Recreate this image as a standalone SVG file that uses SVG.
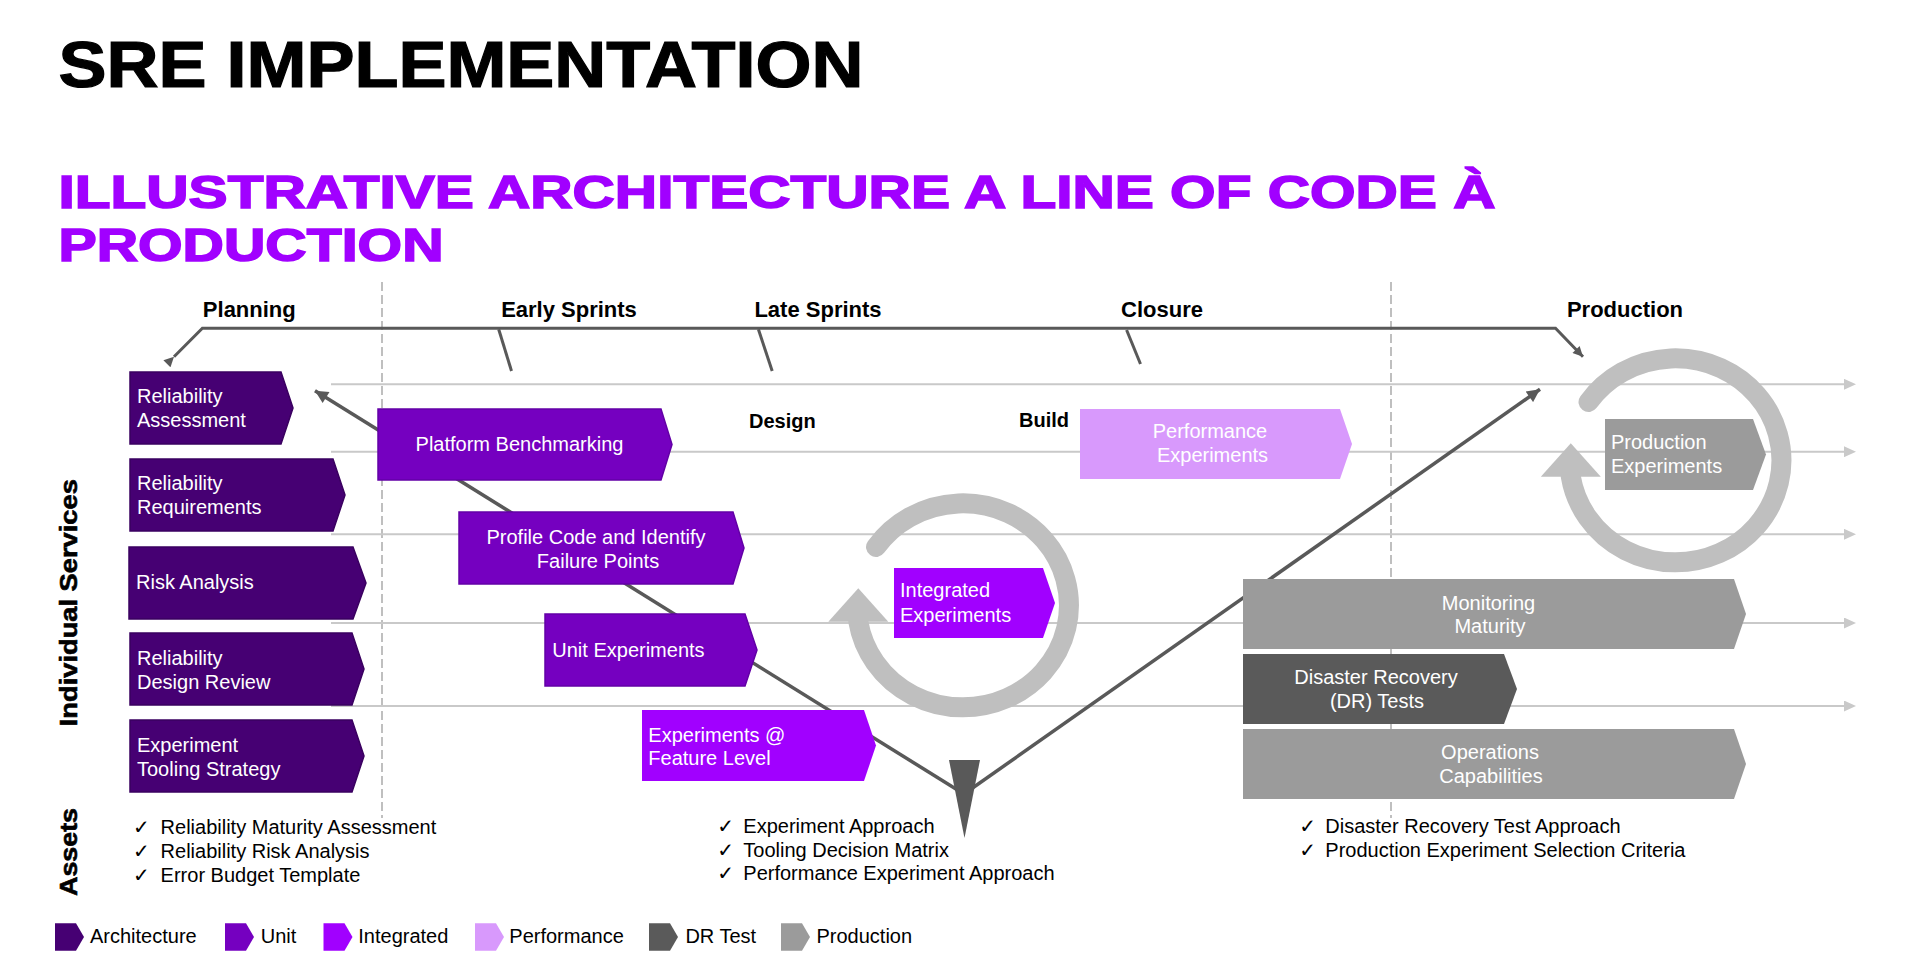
<svg xmlns="http://www.w3.org/2000/svg" width="1910" height="978" viewBox="0 0 1910 978">
<style>
  text { font-family: "Liberation Sans", Arial, sans-serif; }
  .title { font-size: 65px; font-weight: bold; fill: #000; stroke: #000; stroke-width: 1.2; }
  .sub { font-size: 47px; font-weight: bold; fill: #A100FF; stroke: #A100FF; stroke-width: 1.6; }
  .phase { font-size: 22px; font-weight: bold; fill: #000; text-anchor: middle; }
  .stage { font-size: 20px; font-weight: bold; fill: #000; }
  .side { font-size: 23px; font-weight: bold; fill: #000; stroke: #000; stroke-width: 0.6; text-anchor: middle; }
  .bt { font-size: 20px; fill: #FFFFFF; }
  .mid { text-anchor: middle; }
  .asset { font-size: 20px; fill: #000; }
  .chk { font-family: "DejaVu Sans", sans-serif; font-size: 20px; fill: #000; }
  .leg { font-size: 20px; fill: #000; }
  .arch { fill: #460073; stroke: #3A0060; stroke-width: 1.5; }
  .unit { fill: #7500C0; stroke: #6300A6; stroke-width: 1.5; }
  .integ { fill: #A100FF; }
  .perf { fill: #D899FC; }
  .dr { fill: #5A5A5A; }
  .prod { fill: #9B9B9B; }
  .dash { stroke: #BFBFBF; stroke-width: 2; stroke-dasharray: 9 4; fill: none; }
  .lane { stroke: #C9C9C9; stroke-width: 2; fill: none; }
  .conn { stroke: #595959; stroke-width: 3.5; fill: none; }
  .brk { stroke: #595959; stroke-width: 3; fill: none; }
</style>
<defs>
  <marker id="ah" viewBox="0 0 10 10" refX="10" refY="5" markerWidth="15" markerHeight="13" markerUnits="userSpaceOnUse" orient="auto">
    <path d="M0,0 L10,5 L0,10 z" fill="#595959"/>
  </marker>
  <marker id="ahs" viewBox="0 0 10 10" refX="10" refY="5" markerWidth="11" markerHeight="10" markerUnits="userSpaceOnUse" orient="auto">
    <path d="M0,0 L10,5 L0,10 z" fill="#595959"/>
  </marker>
  <marker id="lah" viewBox="0 0 12 11" refX="0" refY="5.5" markerWidth="12" markerHeight="11" markerUnits="userSpaceOnUse" orient="auto">
    <path d="M0,0 L12,5.5 L0,11 z" fill="#C9C9C9"/>
  </marker>
  <g id="cycle">
    <path d="M-87,-59 A106,102 0 1 1 -104.7,15.7" fill="none" stroke="#BFBFBF" stroke-width="20" stroke-linecap="round"/>
    <polygon points="-134.7,15.7 -74.7,15.7 -104.7,-17.7" fill="#BFBFBF"/>
  </g>
</defs>

<g id="titles">
  <text class="title" x="58.5" y="86.7" textLength="805" lengthAdjust="spacingAndGlyphs">SRE IMPLEMENTATION</text>
  <text class="sub" x="58.5" y="207.5" textLength="1437" lengthAdjust="spacingAndGlyphs">ILLUSTRATIVE ARCHITECTURE A LINE OF CODE À</text>
  <text class="sub" x="58.5" y="260.5" textLength="385" lengthAdjust="spacingAndGlyphs">PRODUCTION</text>
</g>

<g id="dividers">
  <line class="dash" x1="382" y1="282" x2="382" y2="818"/>
  <line class="dash" x1="1391" y1="282" x2="1391" y2="818"/>
</g>

<g id="lanes">
  <line class="lane" x1="331" y1="384.3" x2="1844" y2="384.3" marker-end="url(#lah)"/>
  <line class="lane" x1="331" y1="451.7" x2="1844" y2="451.7" marker-end="url(#lah)"/>
  <line class="lane" x1="331" y1="534.3" x2="1844" y2="534.3" marker-end="url(#lah)"/>
  <line class="lane" x1="331" y1="623" x2="1844" y2="623" marker-end="url(#lah)"/>
  <line class="lane" x1="331" y1="706" x2="1844" y2="706" marker-end="url(#lah)"/>
</g>

<g id="timeline">
  <polyline class="brk" points="174,356.7 202.4,328.3 1555.5,328.3 1583,356.7" marker-start="url(#ahs)" marker-end="url(#ahs)"/>
  <line class="brk" x1="498.7" y1="329.3" x2="511.5" y2="371"/>
  <line class="brk" x1="758.4" y1="329.3" x2="772.2" y2="371"/>
  <line class="brk" x1="1126.6" y1="330" x2="1140.5" y2="364"/>
  <text class="phase" x="249.3" y="317.3">Planning</text>
  <text class="phase" x="569" y="317.3">Early Sprints</text>
  <text class="phase" x="818" y="317.3">Late Sprints</text>
  <text class="phase" x="1162" y="317.3">Closure</text>
  <text class="phase" x="1625" y="317.3">Production</text>
  <text class="stage" x="749" y="427.7">Design</text>
  <text class="stage" x="1019" y="427">Build</text>
</g>

<g id="cycles">
  <use href="#cycle" x="963" y="606"/>
  <use href="#cycle" x="1675.5" y="461"/>
</g>

<g id="connectors">
  <line class="conn" x1="964" y1="794" x2="315" y2="390.7" marker-end="url(#ah)"/>
  <line class="conn" x1="964" y1="794" x2="1540" y2="389.3" marker-end="url(#ah)"/>
  <polygon points="949,760 980,760 964.5,838" fill="#595959"/>
</g>

<g id="node-reliability-assessment">
  <path class="arch" d="M130,372 H281 L293,408 L281,444 H130 Z"/>
  <text class="bt" x="137" y="403">Reliability</text>
  <text class="bt" x="137" y="427">Assessment</text>
</g>
<g id="node-reliability-requirements">
  <path class="arch" d="M130,459 H333 L345,495 L333,531 H130 Z"/>
  <text class="bt" x="137" y="490">Reliability</text>
  <text class="bt" x="137" y="514">Requirements</text>
</g>
<g id="node-risk-analysis">
  <path class="arch" d="M129,547 H353 L366,583 L353,619 H129 Z"/>
  <text class="bt" x="136" y="589.3">Risk Analysis</text>
</g>
<g id="node-reliability-design-review">
  <path class="arch" d="M130,633 H352 L364,669 L352,705 H130 Z"/>
  <text class="bt" x="137" y="665">Reliability</text>
  <text class="bt" x="137" y="689">Design Review</text>
</g>
<g id="node-experiment-tooling-strategy">
  <path class="arch" d="M130,720 H352 L364,756 L352,792 H130 Z"/>
  <text class="bt" x="137" y="752">Experiment</text>
  <text class="bt" x="137" y="776">Tooling Strategy</text>
</g>

<g id="node-platform-benchmarking">
  <path class="unit" d="M378,409 H661 L672,444.5 L661,480 H378 Z"/>
  <text class="bt mid" x="519.5" y="451">Platform Benchmarking</text>
</g>
<g id="node-profile-code">
  <path class="unit" d="M459,512 H733 L744,548 L733,584 H459 Z"/>
  <text class="bt mid" x="596" y="544.3">Profile Code and Identify</text>
  <text class="bt mid" x="598" y="568.3">Failure Points</text>
</g>
<g id="node-unit-experiments">
  <path class="unit" d="M545,614 H745 L757,650 L745,686 H545 Z"/>
  <text class="bt" x="552.3" y="656.7">Unit Experiments</text>
</g>

<g id="node-experiments-feature-level">
  <path class="integ" d="M642,710 H864 L876,745.5 L864,781 H642 Z"/>
  <text class="bt" x="648.3" y="741.7">Experiments @</text>
  <text class="bt" x="648.3" y="765">Feature Level</text>
</g>
<g id="node-integrated-experiments">
  <path class="integ" d="M894,568 H1043 L1055,603 L1043,638 H894 Z"/>
  <text class="bt" x="900" y="597.3">Integrated</text>
  <text class="bt" x="900" y="621.7">Experiments</text>
</g>

<g id="node-performance-experiments">
  <path class="perf" d="M1080,409 H1340 L1352,444 L1340,479 H1080 Z"/>
  <text class="bt mid" x="1210" y="438.3">Performance</text>
  <text class="bt mid" x="1212.5" y="461.7">Experiments</text>
</g>

<g id="node-production-experiments">
  <path class="prod" d="M1605,419 H1753 L1766,454.5 L1753,490 H1605 Z"/>
  <text class="bt" x="1611" y="449">Production</text>
  <text class="bt" x="1611" y="473.3">Experiments</text>
</g>

<g id="node-monitoring-maturity">
  <path class="prod" d="M1243,579 H1734 L1746,614 L1734,649 H1243 Z"/>
  <text class="bt mid" x="1488.5" y="610">Monitoring</text>
  <text class="bt mid" x="1490" y="633.3">Maturity</text>
</g>
<g id="node-dr-tests">
  <path class="dr" d="M1243,654 H1504 L1517,689 L1504,724 H1243 Z"/>
  <text class="bt mid" x="1376" y="684">Disaster Recovery</text>
  <text class="bt mid" x="1377" y="707.7">(DR) Tests</text>
</g>
<g id="node-operations-capabilities">
  <path class="prod" d="M1243,729 H1734 L1746,764 L1734,799 H1243 Z"/>
  <text class="bt mid" x="1490" y="759.3">Operations</text>
  <text class="bt mid" x="1491" y="782.7">Capabilities</text>
</g>

<g id="side-labels">
  <text class="side" transform="translate(77,602.7) rotate(-90)" textLength="247" lengthAdjust="spacingAndGlyphs">Individual Services</text>
  <text class="side" transform="translate(77,852) rotate(-90)" textLength="88" lengthAdjust="spacingAndGlyphs">Assets</text>
</g>

<g id="assets-planning">
  <text class="chk" x="133" y="834">✓</text>
  <text class="asset" x="160.6" y="834">Reliability Maturity Assessment</text>
  <text class="chk" x="133" y="857.7">✓</text>
  <text class="asset" x="160.6" y="857.7">Reliability Risk Analysis</text>
  <text class="chk" x="133" y="881.7">✓</text>
  <text class="asset" x="160.6" y="881.7">Error Budget Template</text>
</g>
<g id="assets-sprints">
  <text class="chk" x="717.3" y="833.3">✓</text>
  <text class="asset" x="743.3" y="833.3">Experiment Approach</text>
  <text class="chk" x="717.3" y="856.7">✓</text>
  <text class="asset" x="743.3" y="856.7">Tooling Decision Matrix</text>
  <text class="chk" x="717.3" y="880.3">✓</text>
  <text class="asset" x="743.3" y="880.3">Performance Experiment Approach</text>
</g>
<g id="assets-production">
  <text class="chk" x="1299.3" y="833.3">✓</text>
  <text class="asset" x="1325.3" y="833.3">Disaster Recovery Test Approach</text>
  <text class="chk" x="1299.3" y="856.7">✓</text>
  <text class="asset" x="1325.3" y="856.7">Production Experiment Selection Criteria</text>
</g>

<g id="legend">
  <path fill="#460073" d="M55,923.3 H76 L84,937 L76,950.7 H55 Z"/>
  <text class="leg" x="90" y="943.3">Architecture</text>
  <path fill="#7500C0" d="M225,923.3 H246 L254,937 L246,950.7 H225 Z"/>
  <text class="leg" x="260.7" y="943.3">Unit</text>
  <path fill="#A100FF" d="M323.5,923.3 H344.5 L352.5,937 L344.5,950.7 H323.5 Z"/>
  <text class="leg" x="358.3" y="943.3">Integrated</text>
  <path fill="#D899FC" d="M475,923.3 H496 L504,937 L496,950.7 H475 Z"/>
  <text class="leg" x="509.3" y="943.3">Performance</text>
  <path fill="#5A5A5A" d="M649,923.3 H670 L678,937 L670,950.7 H649 Z"/>
  <text class="leg" x="685.4" y="943.3">DR Test</text>
  <path fill="#9B9B9B" d="M781,923.3 H802 L810,937 L802,950.7 H781 Z"/>
  <text class="leg" x="816.5" y="943.3">Production</text>
</g>
</svg>
